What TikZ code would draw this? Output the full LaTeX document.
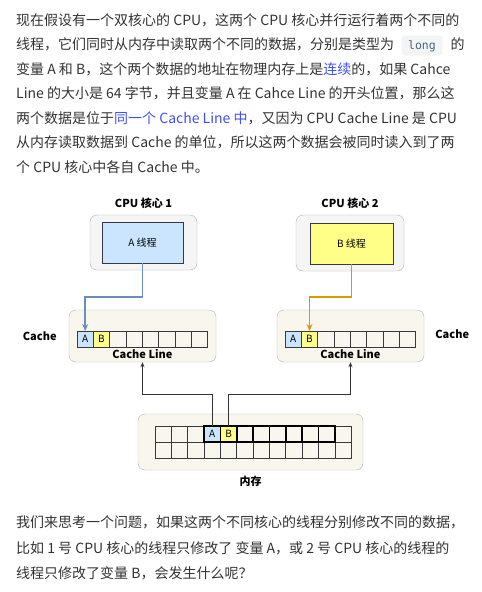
\documentclass[tikz,border=0pt]{standalone}
\usepackage{fontspec}
\setmainfont{Noto Sans CJK SC}
\newfontfamily\codefont{DejaVu Sans Mono}
\usepackage{xcolor}
\usetikzlibrary{positioning,arrows.meta}

\definecolor{txtgray}{HTML}{333333}
\definecolor{linkblue}{HTML}{3F51F5}
\definecolor{codebg}{HTML}{F3F4F4}
\definecolor{codetxt}{HTML}{476582}
\definecolor{boxgray}{HTML}{F5F5F5}
\definecolor{boxcream}{HTML}{F9F7ED}
\definecolor{edgegray}{HTML}{B3B3B3}
\definecolor{fillA}{HTML}{CCE5FF}
\definecolor{fillB}{HTML}{FFFF88}
\definecolor{lineA}{HTML}{6C8EBF}
\definecolor{lineB}{HTML}{D79B00}
\definecolor{celledge}{HTML}{36393D}

\newcommand{\linkword}[1]{{\color{linkblue}#1}}

\tikzset{
    para/.style={anchor=base west, inner sep=0pt, text=txtgray, font=\fontsize{14}{24}\selectfont},
    codebox/.style={fill=codebg, rounded corners=3pt, inner xsep=6.5pt, inner ysep=4pt,
        text height=10pt, text depth=2pt, text=codetxt, font=\codefont\fontsize{11.5}{14}\selectfont},
    corebox/.style={draw=edgegray, fill=boxgray, rounded corners=7pt},
    cachebox/.style={draw=edgegray, fill=boxcream, rounded corners=7pt},
    thread/.style={draw=celledge, font=\fontsize{10}{12}\selectfont},
    cell/.style={draw=celledge, line width=0.7pt, minimum width=16.35pt, minimum height=16pt,
        inner sep=0pt, outer sep=0pt, font=\fontsize{10}{12}\selectfont},
    thickcell/.style={draw=black, line width=1.5pt},
    boldlabel/.style={inner sep=0pt, font=\bfseries\fontsize{11}{13}\selectfont},
    arrA/.style={draw=lineA, line width=1.6pt, -{Stealth[length=7pt,width=6pt]}},
    arrB/.style={draw=lineB, line width=1.6pt, -{Stealth[length=7pt,width=6pt]}},
    arrM/.style={draw=black!80, line width=0.8pt, -{Stealth[length=5pt,width=4pt]}}
}

\begin{document}
\begin{tikzpicture}[x=1pt, y=-1pt, node distance=6pt]
    \useasboundingbox[fill=white] (0,0) rectangle (482,592);

    % Text above
    \node[para] (l1) at (16,25) {现在假设有一个双核心的 CPU，这两个 CPU 核心并行运行着两个不同的};
    \node[para] (l2) at (16,49.5) {线程，它们同时从内存中读取两个不同的数据，分别是类型为};
    \node[codebox, base right=7pt of l2] (long) {long};
    \node[para, base right=8pt of long] (l2b) {的};
    \node[para] (l3) at (16,74) {变量 A 和 B，这个两个数据的地址在物理内存上是\linkword{连续}的，如果 Cahce};
    \node[para] (l4) at (16,98.5) {Line 的大小是 64 字节，并且变量 A 在 Cahce Line 的开头位置，那么这};
    \node[para] (l5) at (16,123) {两个数据是位于\linkword{同一个 Cache Line 中}，又因为 CPU Cache Line 是 CPU};
    \node[para] (l6) at (16,147.5) {从内存读取数据到 Cache 的单位，所以这两个数据会被同时读入到了两};
    \node[para] (l7) at (16,172) {个 CPU 核心中各自 Cache 中。};

    % CPU cores
    \node[corebox, minimum width=107pt, minimum height=55pt] (core1) at (143.5,242.5) {};
    \node[thread, fill=fillA, minimum width=81pt, minimum height=41pt] (thrA) at (142.5,242.5) {A 线程};
    \node[boldlabel, above=6pt of core1] (title1) {CPU 核心 1};
    \node[corebox, minimum width=108pt, minimum height=56pt] (core2) at (350,243) {};
    \node[thread, fill=fillB, minimum width=83pt, minimum height=41pt] (thrB) at (351.5,243.5) {B 线程};
    \node[boldlabel, above=6pt of core2] (title2) {CPU 核心 2};

    % Caches
    \node[cachebox, minimum width=147pt, minimum height=52pt] (cache1) at (142.5,336) {};
    \node[cachebox, minimum width=147pt, minimum height=52pt] (cache2) at (350.5,336) {};
    \node[cell, fill=fillA] (ca1) at ({77+0.5*16.35},339) {A};
    \node[cell, fill=fillB] (ca2) at ({77+1.5*16.35},339) {B};
    \node[cell, fill=fillA] (cb1) at ({285+0.5*16.35},339) {A};
    \node[cell, fill=fillB] (cb2) at ({285+1.5*16.35},339) {B};
    \foreach \i in {3,...,8} {
        \node[cell] (ca\i) at ({77+(\i-0.5)*16.35},339) {};
        \node[cell] (cb\i) at ({285+(\i-0.5)*16.35},339) {};
    }
    \node[boldlabel, below=2pt of ca4.south east] (line1) {Cache Line};
    \node[boldlabel, below=2pt of cb4.south east] (line2) {Cache Line};
    \node[boldlabel, left=12pt of cache1] (cname1) {Cache};
    \node[boldlabel, right=11pt of cache2, yshift=2pt] (cname2) {Cache};

    % Memory
    \node[cachebox, minimum width=225pt, minimum height=56pt] (mem) at (250.5,442) {};
    \foreach \i in {1,...,12}
        \node[cell] (mb\i) at ({155+(\i-0.5)*16.35},450) {};
    \foreach \i in {1,2,3,12}
        \node[cell] (mt\i) at ({155+(\i-0.5)*16.35},434) {};
    \foreach \i in {6,...,11}
        \node[cell, thickcell] (mt\i) at ({155+(\i-0.5)*16.35},434) {};
    \node[cell, thickcell, fill=fillA] (mA) at ({155+3.5*16.35},434) {A};
    \node[cell, thickcell, fill=fillB] (mB) at ({155+4.5*16.35},434) {B};
    \node[boldlabel, below=6pt of mem] (memname) {内存};

    % Connectors
    \draw[arrA] (thrA.south) -- ++(0,34) -| (ca1.north);
    \draw[arrB] (thrB.south) -- ++(0,33) -| (cb2.north);
    \draw[arrM] (mA.north) -- ++(0,-32) -| (cache1.south);
    \draw[arrM] (mB.north) -- ++(0,-32) -| (cache2.south);

    % Text below
    \node[para] (q1) at (16,527) {我们来思考一个问题，如果这两个不同核心的线程分别修改不同的数据，};
    \node[para] (q2) at (16,553) {比如 1 号 CPU 核心的线程只修改了 变量 A，或 2 号 CPU 核心的线程的};
    \node[para] (q3) at (16,578) {线程只修改了变量 B，会发生什么呢？};
\end{tikzpicture}
\end{document}
